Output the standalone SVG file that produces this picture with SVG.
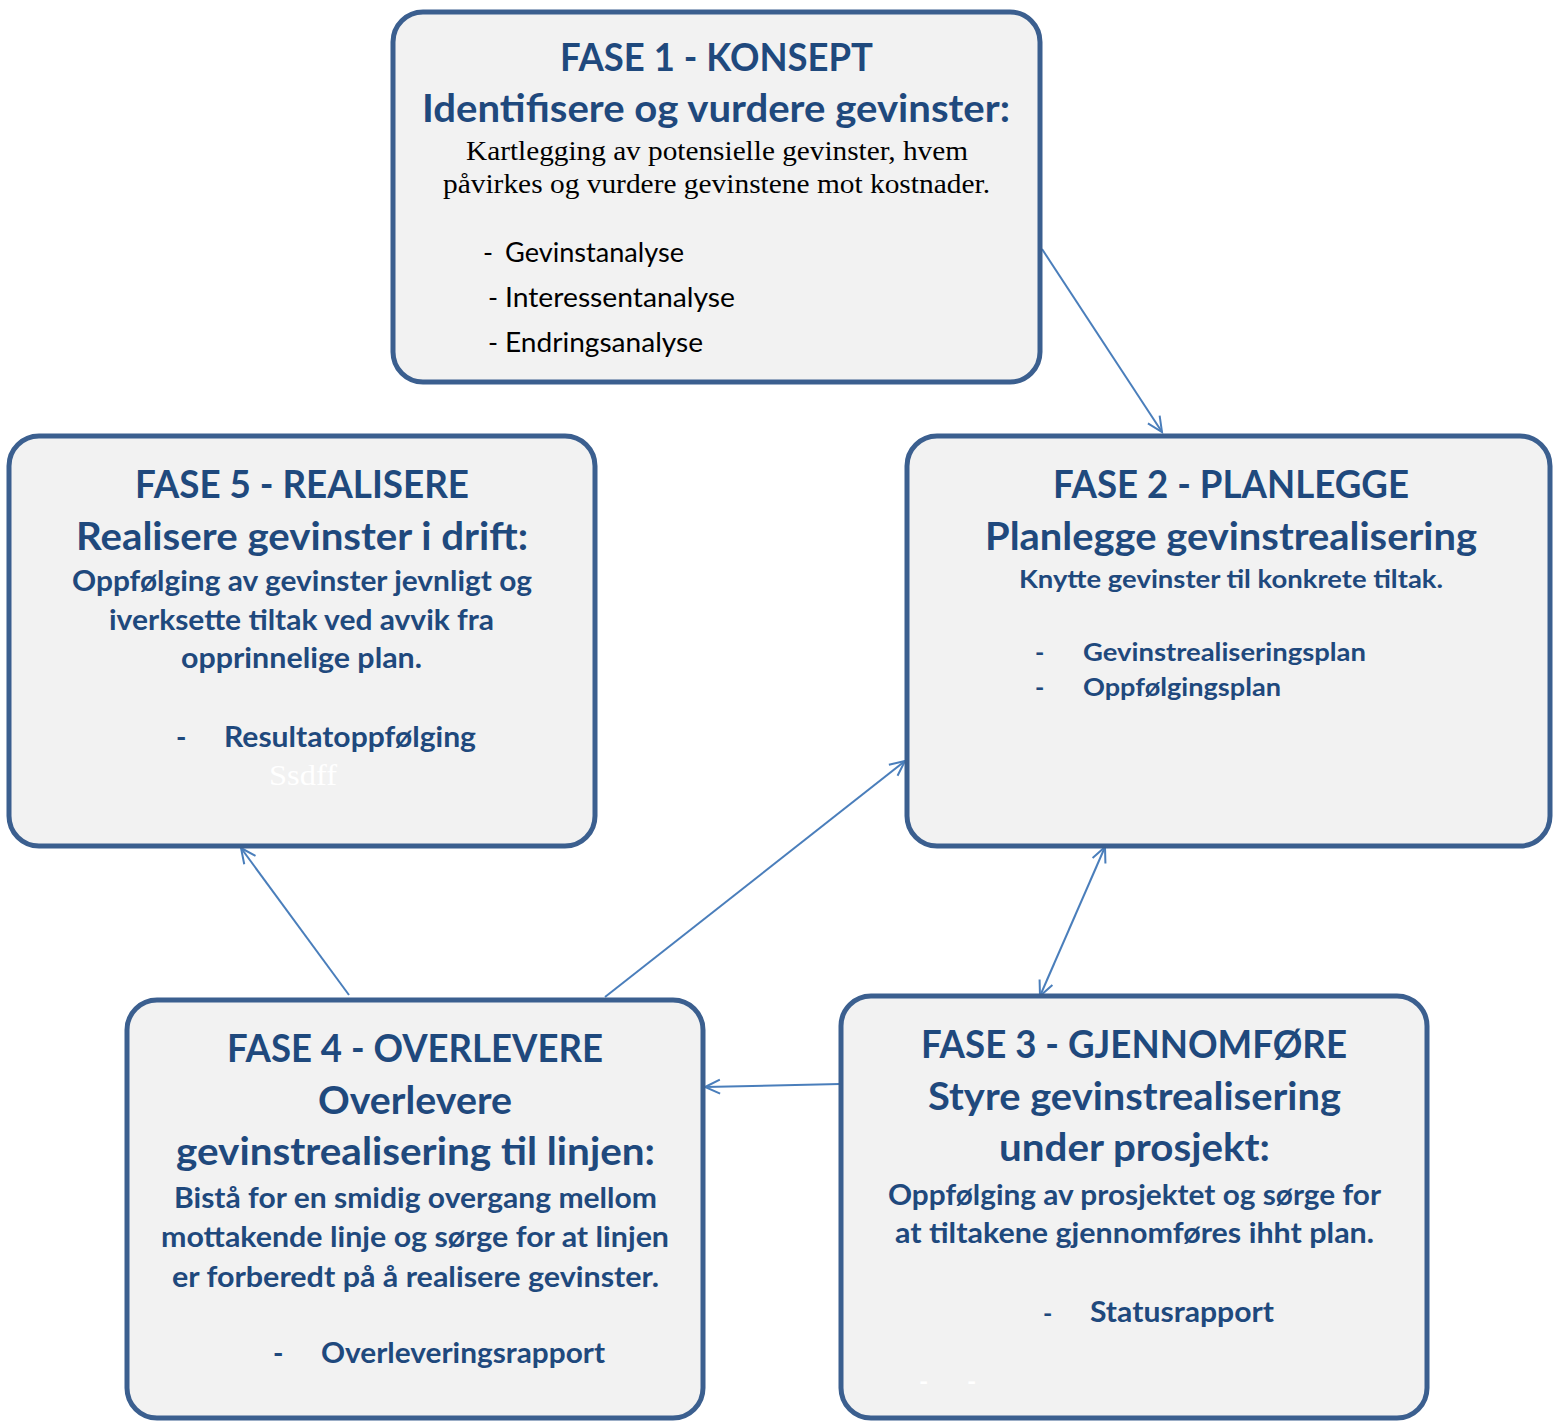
<svg xmlns="http://www.w3.org/2000/svg" width="1553" height="1421" viewBox="0 0 1553 1421">
  <style>
    .box { fill: #F2F2F2; stroke: #3B5F8F; stroke-width: 5; }
    .t { font-family: Lato, "Open Sans", "Liberation Sans", sans-serif; font-weight: bold; fill: #1F497D; }
    .h1 { font-size: 38px; }
    .h2 { font-size: 39px; }
    .b { font-size: 28px; }
    .s { font-size: 25px; }
    .serif { font-family: "Liberation Serif", serif; font-size: 27px; fill: #000; }
    .plain { font-family: Lato, "Open Sans", "Liberation Sans", sans-serif; font-size: 27px; fill: #000; }
    .ghost { font-family: "Liberation Serif", serif; font-size: 30px; fill: #FFFFFF; }
    .conn { stroke: #4A7EBB; stroke-width: 2; fill: none; }
  </style>
  <defs>
    <marker id="arrow" markerUnits="userSpaceOnUse" markerWidth="20" markerHeight="20" refX="16" refY="8" orient="auto-start-reverse" viewBox="0 0 20 16">
      <path d="M1,1 L16,8 L1,15" fill="none" stroke="#4A7EBB" stroke-width="2"/>
    </marker>
  </defs>
  <rect width="1553" height="1421" fill="#FFFFFF"/>

  <!-- connectors between phases -->
  <g id="connectors">
    <line class="conn" x1="1042" y1="249" x2="1162" y2="432" marker-end="url(#arrow)"/>
    <line class="conn" x1="605" y1="997" x2="905" y2="761" marker-end="url(#arrow)"/>
    <line class="conn" x1="1040" y1="996" x2="1105" y2="847" marker-start="url(#arrow)" marker-end="url(#arrow)"/>
    <line class="conn" x1="840" y1="1084" x2="705" y2="1087" marker-end="url(#arrow)"/>
    <line class="conn" x1="349" y1="995" x2="241" y2="848" marker-end="url(#arrow)"/>
  </g>

  <!-- Phase 1 -->
  <g id="fase1">
    <rect class="box" x="393" y="12" width="647" height="370" rx="30"/>
    <text class="t h1" x="560" y="71" textLength="313" lengthAdjust="spacingAndGlyphs">FASE 1 - KONSEPT</text>
    <text class="t h2" x="422" y="122" textLength="588" lengthAdjust="spacingAndGlyphs">Identifisere og vurdere gevinster:</text>
    <text class="serif" x="466" y="160" textLength="502" lengthAdjust="spacingAndGlyphs">Kartlegging av potensielle gevinster, hvem</text>
    <text class="serif" x="443" y="193" textLength="547" lengthAdjust="spacingAndGlyphs">påvirkes og vurdere gevinstene mot kostnader.</text>
    <text class="plain" x="483" y="262">-</text>
    <text class="plain" x="505" y="262" textLength="179" lengthAdjust="spacingAndGlyphs">Gevinstanalyse</text>
    <text class="plain" x="488" y="307">-</text>
    <text class="plain" x="505" y="307" textLength="230" lengthAdjust="spacingAndGlyphs">Interessentanalyse</text>
    <text class="plain" x="488" y="352">-</text>
    <text class="plain" x="505" y="352" textLength="198" lengthAdjust="spacingAndGlyphs">Endringsanalyse</text>
  </g>

  <!-- Phase 2 -->
  <g id="fase2">
    <rect class="box" x="907" y="436" width="643" height="410" rx="30"/>
    <text class="t h1" x="1053" y="498" textLength="356" lengthAdjust="spacingAndGlyphs">FASE 2 - PLANLEGGE</text>
    <text class="t h2" x="985" y="550" textLength="492" lengthAdjust="spacingAndGlyphs">Planlegge gevinstrealisering</text>
    <text class="t s" x="1019" y="588" textLength="424" lengthAdjust="spacingAndGlyphs">Knytte gevinster til konkrete tiltak.</text>
    <text class="t s" x="1035" y="661">-</text>
    <text class="t s" x="1083" y="661" textLength="283" lengthAdjust="spacingAndGlyphs">Gevinstrealiseringsplan</text>
    <text class="t s" x="1035" y="696">-</text>
    <text class="t s" x="1083" y="696" textLength="198" lengthAdjust="spacingAndGlyphs">Oppfølgingsplan</text>
  </g>

  <!-- Phase 3 -->
  <g id="fase3">
    <rect class="box" x="841" y="996" width="586" height="422" rx="30"/>
    <text class="t h1" x="921" y="1058" textLength="426" lengthAdjust="spacingAndGlyphs">FASE 3 - GJENNOMFØRE</text>
    <text class="t h2" x="928" y="1110" textLength="413" lengthAdjust="spacingAndGlyphs">Styre gevinstrealisering</text>
    <text class="t h2" x="999" y="1161" textLength="271" lengthAdjust="spacingAndGlyphs">under prosjekt:</text>
    <text class="t b" x="888" y="1205" textLength="493" lengthAdjust="spacingAndGlyphs">Oppfølging av prosjektet og sørge for</text>
    <text class="t b" x="895" y="1243" textLength="479" lengthAdjust="spacingAndGlyphs">at tiltakene gjennomføres ihht plan.</text>
    <text class="t s" x="1043" y="1322">-</text>
    <text class="t b" x="1090" y="1322" textLength="184" lengthAdjust="spacingAndGlyphs">Statusrapport</text>
    <text class="t s" x="919" y="1390" fill="#FFFFFF" style="fill:#FFFFFF">-</text>
    <text class="t s" x="967" y="1390" fill="#FFFFFF" style="fill:#FFFFFF">-</text>
  </g>

  <!-- Phase 4 -->
  <g id="fase4">
    <rect class="box" x="127" y="1000" width="576" height="418" rx="30"/>
    <text class="t h1" x="227" y="1062" textLength="376" lengthAdjust="spacingAndGlyphs">FASE 4 - OVERLEVERE</text>
    <text class="t h2" x="318" y="1114" textLength="194" lengthAdjust="spacingAndGlyphs">Overlevere</text>
    <text class="t h2" x="176" y="1165" textLength="479" lengthAdjust="spacingAndGlyphs">gevinstrealisering til linjen:</text>
    <text class="t b" x="174" y="1208" textLength="483" lengthAdjust="spacingAndGlyphs">Bistå for en smidig overgang mellom</text>
    <text class="t b" x="161" y="1247" textLength="508" lengthAdjust="spacingAndGlyphs">mottakende linje og sørge for at linjen</text>
    <text class="t b" x="172" y="1287" textLength="487" lengthAdjust="spacingAndGlyphs">er forberedt på å realisere gevinster.</text>
    <text class="t b" x="273" y="1363">-</text>
    <text class="t b" x="321" y="1363" textLength="284" lengthAdjust="spacingAndGlyphs">Overleveringsrapport</text>
  </g>

  <!-- Phase 5 -->
  <g id="fase5">
    <rect class="box" x="9" y="436" width="586" height="410" rx="30"/>
    <text class="t h1" x="135" y="498" textLength="334" lengthAdjust="spacingAndGlyphs">FASE 5 - REALISERE</text>
    <text class="t h2" x="76" y="550" textLength="452" lengthAdjust="spacingAndGlyphs">Realisere gevinster i drift:</text>
    <text class="t b" x="72" y="591" textLength="460" lengthAdjust="spacingAndGlyphs">Oppfølging av gevinster jevnligt og</text>
    <text class="t b" x="109" y="630" textLength="385" lengthAdjust="spacingAndGlyphs">iverksette tiltak ved avvik fra</text>
    <text class="t b" x="181" y="668" textLength="241" lengthAdjust="spacingAndGlyphs">opprinnelige plan.</text>
    <text class="t b" x="176" y="747">-</text>
    <text class="t b" x="224" y="747" textLength="252" lengthAdjust="spacingAndGlyphs">Resultatoppfølging</text>
    <text class="ghost" x="269" y="785" textLength="68" lengthAdjust="spacingAndGlyphs">Ssdff</text>
  </g>
</svg>
